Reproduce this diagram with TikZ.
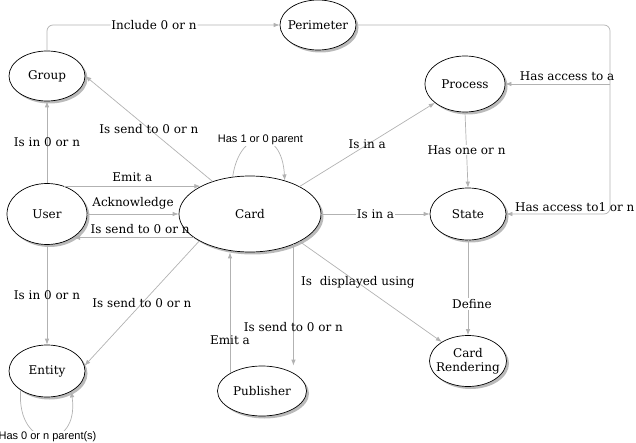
\documentclass[tikz,border=0pt]{standalone}
\usepackage{fontspec}
\setmainfont{DejaVu Serif}
\newfontfamily\notefont{Liberation Sans}
\usetikzlibrary{positioning,arrows.meta,shapes.geometric,shadows}

\begin{document}
\begin{tikzpicture}[
        x=1pt, y=-1pt,
        bubble/.style = {ellipse, draw, fill=white, line width=0.7pt, inner xsep=-5pt, inner ysep=0pt, minimum width=76pt, minimum height=50pt, align=center, font=\fontsize{12}{14}\selectfont, drop shadow={shadow xshift=2.5pt, shadow yshift=-2.5pt, opacity=0.6, fill=black!45}},
        tag/.style = {text=black, inner sep=1pt, font=\fontsize{12}{14}\selectfont},
        note/.style = {text=black, inner sep=1pt, font=\notefont\fontsize{11}{13}\selectfont},
        line/.style = {draw, gray!60, line width=0.7pt, -{Latex[length=6pt, width=4.5pt]}}
    ]
    \useasboundingbox (0,0) rectangle (636,443);

    \node [bubble] (perimeter) at (318,25) {Perimeter};
    \node [bubble] (group) at (47,76) {Group};
    \node [bubble, minimum width=80pt, minimum height=56pt] (process) at (465,84) {Process};
    \node [bubble, minimum width=80pt, minimum height=61pt] (user) at (47,214) {User};
    \node [bubble, minimum width=142pt, minimum height=76pt] (card) at (250,214) {Card};
    \node [bubble, minimum height=52pt] (state) at (468,214) {State};
    \node [bubble, minimum height=52pt] (entity) at (47,371) {Entity};
    \node [bubble, minimum width=89pt] (publisher) at (262,391) {Publisher};
    \node [bubble, minimum width=77pt, minimum height=51pt] (rendering) at (468,361) {Card\\Rendering};
    \coordinate (corner) at (610,25);

    \path [line, rounded corners=6pt] (group.north) |- node[tag, fill=white, pos=0.73] {Include 0 or n} (perimeter.west);
    \path [line, rounded corners=6pt] (perimeter.east) -- (corner) |- node[tag, above=1pt, pos=0.67] {Has access to1 or n} (state.east);
    \path [line] (corner |- process.east) -- node[tag, above=2pt, pos=0.41] {Has access to a} (process.east);

    \path [line] (user.north) -- node[tag] {Is in 0 or n} (group.south);
    \path [line] (user.south) -- node[tag] {Is in 0 or n} (entity.north);
    \path [line] (user.58) -- node[tag, above=3pt] {Emit a} (card.151 |- user.58);
    \path [line] (user.east) -- node[tag, above=3pt] {Acknowledge} (card.west);
    \path [line] (card.203) -- node[tag, above=3pt, pos=0.45] {Is send to 0 or n} (card.203 -| user.-40);
    \path [line] (card.139) -- node[tag] {Is send to 0 or n} (group.east);
    \path [line] (card.208) -- node[tag] {Is send to 0 or n} (entity.8);
    \path [line] (card.115) .. controls (240,127) and (282,127) .. node[note, fill=white] {Has 1 or 0 parent} (card.44);

    \path [line] (card.29) -- node[tag] {Is in a} (process.212);
    \path [line] (card.east) -- node[tag, fill=white] {Is in a} (state.west);
    \path [line] (process.south) -- node[tag, fill=white] {Has one or n} (state.north);
    \path [line] (state.south) -- node[tag, fill=white, pos=0.67, xshift=4pt] {Define} (rendering.north);
    \path [line] (card.331) -- node[tag, pos=0.41] {Is\ \ displayed using} (rendering.144);

    \path [line] (card.325) -- node[tag, pos=0.68] {Is send to 0 or n} (card.325 |- publisher.north);
    \path [line] (publisher.151) -- node[tag, pos=0.27] {Emit a} (publisher.151 |- card.south);
    \path [line] (entity.216) .. controls (16,452) and (80,452) .. node[note, fill=white] {Has 0 or n parent(s)} (entity.320);

    \end{tikzpicture}
\end{document}
